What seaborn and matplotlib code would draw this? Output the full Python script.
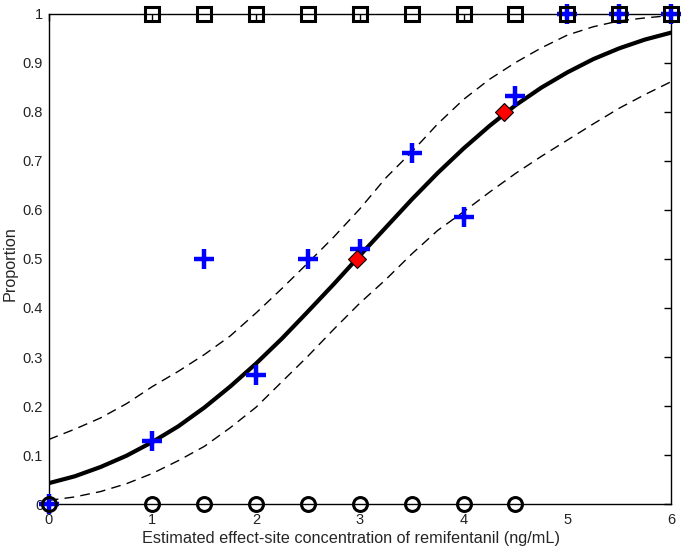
import numpy as np
import pandas as pd
import seaborn as sns
import matplotlib
matplotlib.use("Agg")
import matplotlib.pyplot as plt

# observed responses (1 = response, 0 = no response)
resp_x = [1, 1.5, 2, 2.5, 3, 3.5, 4, 4.5, 5, 5.5, 6]
noresp_x = [0, 1, 1.5, 2, 2.5, 3, 3.5, 4, 4.5]

# observed proportions at each concentration
prop_x = [0, 1, 1.5, 2, 2.5, 3, 3.5, 4, 4.5, 5, 5.5, 6]
prop_y = [0, 0.129, 0.5, 0.263, 0.5, 0.52, 0.716, 0.586, 0.832, 1, 1, 1]

# EC50 / EC80 estimates
ec_x = [2.97, 4.39]
ec_y = [0.5, 0.8]

# fitted curve and 95% band
curve_x = [0, 0.25, 0.5, 0.75, 1.0, 1.25, 1.5, 1.75, 2.0, 2.25, 2.5, 2.75, 3.0,
           3.25, 3.5, 3.75, 4.0, 4.25, 4.5, 4.75, 5.0, 5.25, 5.5, 5.75, 6.0]
fit_y = [0.043, 0.057, 0.076, 0.099, 0.127, 0.159, 0.197, 0.240, 0.287, 0.338,
         0.393, 0.449, 0.507, 0.564, 0.621, 0.675, 0.725, 0.771, 0.813, 0.849,
         0.880, 0.907, 0.929, 0.947, 0.961]
upper_y = [0.132, 0.153, 0.176, 0.205, 0.240, 0.271, 0.305, 0.343, 0.390, 0.440,
           0.492, 0.545, 0.602, 0.665, 0.718, 0.775, 0.825, 0.866, 0.900, 0.930,
           0.956, 0.973, 0.985, 0.991, 0.996]
lower_y = [0.008, 0.015, 0.026, 0.042, 0.063, 0.089, 0.118, 0.156, 0.198, 0.250,
           0.302, 0.357, 0.410, 0.458, 0.510, 0.558, 0.596, 0.636, 0.674, 0.709,
           0.742, 0.775, 0.807, 0.835, 0.861]

sns.set_style("white")
plt.rcParams['font.family'] = ['Liberation Sans', 'DejaVu Sans']

fig = plt.figure(figsize=(6.85, 5.49), dpi=100)
ax = fig.add_axes([0.0711, 0.0814, 0.9085, 0.894])

curves = pd.DataFrame({'x': curve_x, 'fit': fit_y, 'upper': upper_y, 'lower': lower_y})
sns.lineplot(data=curves, x='x', y='upper', ax=ax, color='black', lw=1.0,
             linestyle=(0, (7, 4.5)), zorder=2)
sns.lineplot(data=curves, x='x', y='lower', ax=ax, color='black', lw=1.0,
             linestyle=(0, (7, 4.5)), zorder=2)
sns.lineplot(data=curves, x='x', y='fit', ax=ax, color='black', lw=3.0, zorder=3)

ax.plot(prop_x, prop_y, linestyle='none', marker='+', color='#0000ff',
        markersize=15, markeredgewidth=3.2, clip_on=False, zorder=4)
ax.plot(resp_x, [1] * len(resp_x), linestyle='none', marker='s', markerfacecolor='none',
        markeredgecolor='black', markersize=9.5, markeredgewidth=2.2, clip_on=False, zorder=5)
ax.plot(noresp_x, [0] * len(noresp_x), linestyle='none', marker='o', markerfacecolor='none',
        markeredgecolor='black', markersize=10, markeredgewidth=2.2, clip_on=False, zorder=5)
ax.plot(ec_x, ec_y, linestyle='none', marker='D', markerfacecolor='red',
        markeredgecolor='black', markersize=9.5, markeredgewidth=0.8, zorder=6)

ax.set_xlim(0, 6)
ax.set_ylim(0, 1)
ax.set_xticks(range(7))
ax.set_xticklabels([str(i) for i in range(7)])
yt = np.round(np.arange(0, 1.01, 0.1), 1)
ax.set_yticks(yt)
ax.set_yticklabels(['0', '0.1', '0.2', '0.3', '0.4', '0.5', '0.6', '0.7', '0.8', '0.9', '1'])
ax.tick_params(direction='in', length=5, width=1, top=True, right=True,
               labelsize=10.5, colors='black', labelcolor='#222222')
ax.tick_params(axis='x', pad=6)
ax.tick_params(axis='y', pad=4)
for s in ax.spines.values():
    s.set_color('black')
    s.set_linewidth(1.0)
ax.set_xlabel('Estimated effect-site concentration of remifentanil (ng/mL)', fontsize=11.7)
ax.set_ylabel('Proportion', fontsize=11.7)
ax.xaxis.set_label_coords(0.486, -0.055)
ax.yaxis.set_label_coords(-0.05, 0.49)

fig.savefig('out.png', dpi=100)
